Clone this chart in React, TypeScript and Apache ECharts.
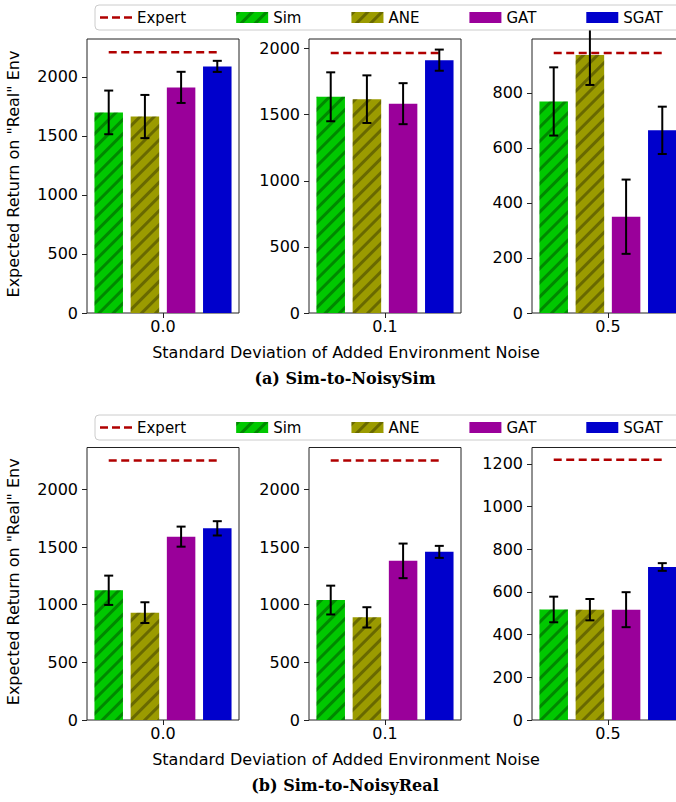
import React, { useEffect, useRef } from 'react';
import * as echarts from 'echarts';

// ---- data ----
const noiseLevels = ['0.0', '0.1', '0.5'];
const methods = ['Sim', 'ANE', 'GAT', 'SGAT'];
const methodColors = ['#00c800', '#9b9b00', '#9a009a', '#0000cc'];
const methodHatched = [true, true, false, false];

// (a) Sim-to-NoisySim : rows = noise level, columns = method
const noisySimMean = [
  [1700, 1665, 1912, 2090],
  [1635, 1617, 1583, 1912],
  [769, 938, 350, 664],
];
const noisySimErr = [
  [185, 183, 132, 47],
  [185, 180, 155, 80],
  [124, 109, 135, 86],
];
const noisySimExpert = [2210, 1967, 945];
const noisySimYMax = [2322, 2072, 996];
const noisySimYStep = [500, 500, 200];

// (b) Sim-to-NoisyReal
const noisyRealMean = [
  [1125, 931, 1590, 1662],
  [1040, 890, 1380, 1458],
  [518, 517, 517, 717],
];
const noisyRealErr = [
  [127, 90, 87, 62],
  [125, 88, 150, 52],
  [60, 50, 82, 18],
];
const noisyRealExpert = [2250, 2250, 1220];
const noisyRealYMax = [2363, 2363, 1277];
const noisyRealYStep = [500, 500, 200];

const captions = ['(a) Sim-to-NoisySim', '(b) Sim-to-NoisyReal'];
const xTitle = 'Standard Deviation of Added Environment Noise';
const yTitle = 'Expected Return on "Real" Env';

// ---- layout ----
const FONT = 'DejaVu Sans';
const panelLefts = [87, 309, 532];
const panelWidth = 152;
const figTops = [39, 447.5];
const figHeights = [274, 272.5];
const legendTops = [5, 415];
const EXPERT_COLOR = '#b00000';

function buildOption() {
  const figs = [
    { mean: noisySimMean, err: noisySimErr, expert: noisySimExpert, ymax: noisySimYMax, step: noisySimYStep },
    { mean: noisyRealMean, err: noisyRealErr, expert: noisyRealExpert, ymax: noisyRealYMax, step: noisyRealYStep },
  ];
  const grid: any[] = [];
  const xAxis: any[] = [];
  const yAxis: any[] = [];
  const series: any[] = [];
  const graphic: any[] = [];
  const legend: any[] = [];

  figs.forEach((fig, f) => {
    noiseLevels.forEach((lvl, p) => {
      const gi = f * 3 + p;
      grid.push({
        left: panelLefts[p],
        top: figTops[f],
        width: panelWidth,
        height: figHeights[f],
        show: true,
        borderColor: '#222',
        borderWidth: 1,
        backgroundColor: 'transparent',
      });
      xAxis.push({
        gridIndex: gi,
        type: 'value',
        min: -0.6,
        max: methods.length - 0.4,
        show: false,
        axisLine: { onZero: false },
      });
      xAxis.push({
        gridIndex: gi,
        type: 'category',
        position: 'bottom',
        data: [lvl],
        boundaryGap: true,
        axisLine: { show: false, onZero: false },
        axisTick: { show: true, alignWithLabel: true, length: 5, lineStyle: { color: '#222', width: 1 } },
        axisLabel: { fontSize: 16, color: '#000', fontFamily: FONT, margin: 5 },
        splitLine: { show: false },
      });
      const ticks: number[] = [];
      for (let v = 0; v <= fig.ymax[p]; v += fig.step[p]) ticks.push(v);
      yAxis.push({
        gridIndex: gi,
        type: 'value',
        position: 'left',
        min: 0,
        max: fig.ymax[p],
        axisLine: { show: false, onZero: false },
        splitLine: { show: false },
        axisTick: { show: true, length: 5, customValues: ticks, lineStyle: { color: '#222', width: 1 } },
        axisLabel: {
          customValues: ticks,
          fontSize: 16,
          color: '#000',
          fontFamily: FONT,
          margin: 9,
          formatter: (v: number) => String(v),
        },
      });

      methods.forEach((m, mi) => {
        series.push({
          type: 'bar',
          name: m,
          xAxisIndex: 2 * gi,
          yAxisIndex: gi,
          data: [[mi, fig.mean[p][mi]]],
          barWidth: 28.5,
          barGap: '-100%',
          itemStyle: {
            color: methodColors[mi],
            decal: methodHatched[mi]
              ? {
                  symbol: 'rect',
                  symbolSize: 1,
                  color: 'rgba(0,0,0,0.32)',
                  dashArrayX: [1, 0],
                  dashArrayY: [3, 7],
                  rotation: -Math.PI / 4,
                }
              : 'none',
          },
        });
      });

      series.push({
        type: 'line',
        name: 'Expert',
        xAxisIndex: 2 * gi,
        yAxisIndex: gi,
        data: [
          [0, fig.expert[p]],
          [methods.length - 1, fig.expert[p]],
        ],
        symbol: 'none',
        z: 3,
        lineStyle: { color: EXPERT_COLOR, width: 2.5, type: [8, 4.5] },
        itemStyle: { color: EXPERT_COLOR },
      });

      series.push({
        type: 'custom',
        name: 'err',
        xAxisIndex: 2 * gi,
        yAxisIndex: gi,
        z: 4,
        clip: false,
        data: methods.map((_, mi) => [mi, fig.mean[p][mi], fig.err[p][mi]]),
        renderItem: (params: any, api: any) => {
          const x = api.value(0);
          const mean = api.value(1);
          const e = api.value(2);
          const top = api.coord([x, mean + e]);
          const bot = api.coord([x, mean - e]);
          const cap = 4.5;
          const style = { stroke: '#000', lineWidth: 2 };
          return {
            type: 'group',
            children: [
              { type: 'line', shape: { x1: top[0], y1: top[1], x2: bot[0], y2: bot[1] }, style },
              { type: 'line', shape: { x1: top[0] - cap, y1: top[1], x2: top[0] + cap, y2: top[1] }, style },
              { type: 'line', shape: { x1: bot[0] - cap, y1: bot[1], x2: bot[0] + cap, y2: bot[1] }, style },
            ],
          };
        },
      });
    });

    legend.push({
      left: 95,
      top: legendTops[f],
      orient: 'horizontal',
      data: [
        {
          name: 'Expert',
          icon: 'path://M0,0H8V2.5H0Z M12,0H20V2.5H12Z M24,0H32V2.5H24Z',
          itemStyle: { color: EXPERT_COLOR },
        },
        ...methods.map((m) => ({ name: m, icon: 'rect' })),
      ],
      itemWidth: 32,
      itemHeight: 11,
      itemGap: 50,
      padding: [5, 40, 5, 5],
      borderColor: '#cccccc',
      borderWidth: 1,
      borderRadius: 4,
      backgroundColor: '#ffffff',
      textStyle: { fontSize: 15, color: '#000', fontFamily: FONT },
      z: 10,
      selectedMode: false,
    });

    const axisBottom = figTops[f] + figHeights[f];
    graphic.push({
      type: 'text',
      x: 13,
      y: figTops[f] + figHeights[f] / 2 - 2,
      rotation: Math.PI / 2,
      style: { text: yTitle, fontSize: 16, fontFamily: FONT, fill: '#000', textAlign: 'center', textVerticalAlign: 'middle' },
    });
    graphic.push({
      type: 'text',
      x: 346,
      y: axisBottom + 39,
      style: { text: xTitle, fontSize: 16, fontFamily: FONT, fill: '#000', textAlign: 'center', textVerticalAlign: 'middle' },
    });
    graphic.push({
      type: 'text',
      x: 345,
      y: axisBottom + 65,
      style: {
        text: captions[f],
        fontSize: 16,
        fontFamily: 'DejaVu Serif',
        fontWeight: 'bold',
        fill: '#000',
        textAlign: 'center',
        textVerticalAlign: 'middle',
      },
    });
  });

  return {
    animation: false,
    backgroundColor: '#ffffff',
    grid,
    xAxis,
    yAxis,
    series,
    legend,
    graphic,
  };
}

export default function App() {
  const ref = useRef<HTMLDivElement>(null);
  useEffect(() => {
    if (!ref.current) return;
    const chart = echarts.init(ref.current, undefined, { renderer: 'svg' });
    chart.setOption(buildOption() as any);
    return () => chart.dispose();
  }, []);
  return (
    <div style={{ position: 'fixed', left: 0, top: 0, width: 676, height: 802, overflow: 'hidden', background: '#fff' }}>
      <div ref={ref} style={{ width: 800, height: 802 }} />
    </div>
  );
}
